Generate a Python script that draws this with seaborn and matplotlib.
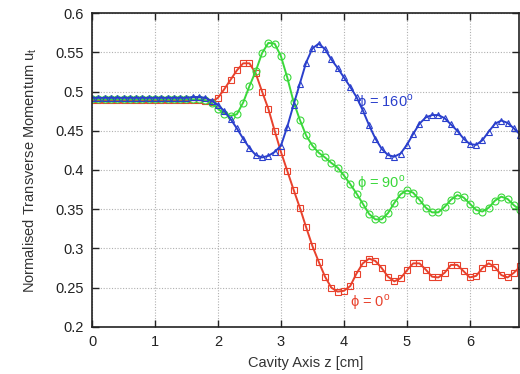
import numpy as np
import pandas as pd
import seaborn as sns
import matplotlib
matplotlib.use("Agg")
import matplotlib.pyplot as plt

# cavity axis positions [cm]
z = [0.0, 0.1, 0.2, 0.3, 0.4, 0.5, 0.6, 0.7, 0.8, 0.9,
     1.0, 1.1, 1.2, 1.3, 1.4, 1.5, 1.6, 1.7, 1.8, 1.9,
     2.0, 2.1, 2.2, 2.3, 2.4, 2.5, 2.6, 2.7, 2.8, 2.9,
     3.0, 3.1, 3.2, 3.3, 3.4, 3.5, 3.6, 3.7, 3.8, 3.9,
     4.0, 4.1, 4.2, 4.3, 4.4, 4.5, 4.6, 4.7, 4.8, 4.9,
     5.0, 5.1, 5.2, 5.3, 5.4, 5.5, 5.6, 5.7, 5.8, 5.9,
     6.0, 6.1, 6.2, 6.3, 6.4, 6.5, 6.6, 6.7, 6.8]

# phi = 0 deg
ut_phi0 = [0.489, 0.489, 0.489, 0.489, 0.489, 0.489, 0.489, 0.489, 0.489, 0.489,
           0.489, 0.489, 0.489, 0.489, 0.489, 0.489, 0.489, 0.489, 0.488, 0.487,
           0.492, 0.503, 0.515, 0.527, 0.536, 0.536, 0.523, 0.500, 0.478, 0.450,
           0.423, 0.399, 0.375, 0.352, 0.327, 0.303, 0.283, 0.264, 0.250, 0.245,
           0.246, 0.252, 0.268, 0.281, 0.287, 0.284, 0.275, 0.264, 0.258, 0.262,
           0.272, 0.281, 0.281, 0.273, 0.264, 0.263, 0.269, 0.279, 0.279, 0.271,
           0.263, 0.265, 0.275, 0.281, 0.276, 0.266, 0.263, 0.269, 0.277]

# phi = 90 deg
ut_phi90 = [0.490, 0.490, 0.490, 0.490, 0.490, 0.490, 0.490, 0.490, 0.490, 0.490,
            0.490, 0.490, 0.490, 0.490, 0.490, 0.490, 0.490, 0.490, 0.489, 0.485,
            0.478, 0.472, 0.469, 0.471, 0.486, 0.507, 0.526, 0.549, 0.562, 0.561,
            0.545, 0.518, 0.487, 0.464, 0.444, 0.431, 0.422, 0.416, 0.409, 0.403,
            0.393, 0.382, 0.370, 0.357, 0.344, 0.337, 0.337, 0.345, 0.358, 0.369,
            0.374, 0.371, 0.362, 0.352, 0.346, 0.346, 0.353, 0.362, 0.368, 0.365,
            0.357, 0.349, 0.347, 0.352, 0.361, 0.366, 0.363, 0.355, 0.349]

# phi = 160 deg
ut_phi160 = [0.492, 0.492, 0.492, 0.492, 0.492, 0.492, 0.492, 0.492, 0.492, 0.492,
             0.492, 0.492, 0.492, 0.492, 0.492, 0.492, 0.493, 0.493, 0.492, 0.488,
             0.483, 0.475, 0.465, 0.453, 0.440, 0.428, 0.419, 0.416, 0.418, 0.423,
             0.431, 0.455, 0.483, 0.510, 0.537, 0.555, 0.561, 0.554, 0.541, 0.530,
             0.518, 0.506, 0.493, 0.476, 0.457, 0.440, 0.427, 0.419, 0.417, 0.421,
             0.432, 0.446, 0.459, 0.467, 0.470, 0.470, 0.466, 0.458, 0.450, 0.440,
             0.433, 0.432, 0.438, 0.449, 0.459, 0.463, 0.460, 0.453, 0.445]

xticks = [0, 1, 2, 3, 4, 5, 6]
yticks = [0.2, 0.25, 0.3, 0.35, 0.4, 0.45, 0.5, 0.55, 0.6]
ytick_labels = ["0.2", "0.25", "0.3", "0.35", "0.4", "0.45", "0.5", "0.55", "0.6"]

sns.set_style("ticks")
plt.rcParams['font.family'] = ['Liberation Sans', 'DejaVu Sans']

red = "#e8412c"
green = "#3ad83a"
blue = "#2a3fcc"

fig = plt.figure(figsize=(5.2, 3.74), dpi=100)
ax = fig.add_axes([0.177, 0.126, 0.821, 0.839])

series = [(ut_phi0, red, "s", 5), (ut_phi90, green, "o", 5), (ut_phi160, blue, "^", 4)]
for vals, col, mk, ms in series:
    sns.lineplot(x=z, y=vals, ax=ax, color=col, linewidth=1.4,
                 marker=mk, markersize=ms, markerfacecolor="none",
                 markeredgecolor=col, markeredgewidth=0.8)

ax.set_xlim(0, 6.78)
ax.set_ylim(0.2, 0.6)
ax.set_xticks(xticks)
ax.set_yticks(yticks)
ax.set_yticklabels(ytick_labels)
ax.tick_params(direction="in", length=5, width=1, top=True, right=True,
               labelsize=10.5, colors="#222222", pad=6)
ax.grid(True, linestyle=(0, (1, 1.5)), color="#b0b0b0", linewidth=0.8)
for s in ax.spines.values():
    s.set_linewidth(1.2)
    s.set_color("#222222")

ax.set_xlabel("Cavity Axis z [cm]", fontsize=10.5, color="#333333", labelpad=5)
ax.set_ylabel("Normalised Transverse Momentum u$_\\mathregular{t}$", fontsize=10.5,
              color="#333333", labelpad=12)

ax.text(4.2, 0.481, "ϕ = 160$^\\mathregular{o}$", color=blue, fontsize=10.5)
ax.text(4.2, 0.378, "ϕ = 90$^\\mathregular{o}$", color=green, fontsize=10.5)
ax.text(4.1, 0.226, "ϕ = 0$^\\mathregular{o}$", color=red, fontsize=10.5)

fig.savefig("out.png", dpi=100)
